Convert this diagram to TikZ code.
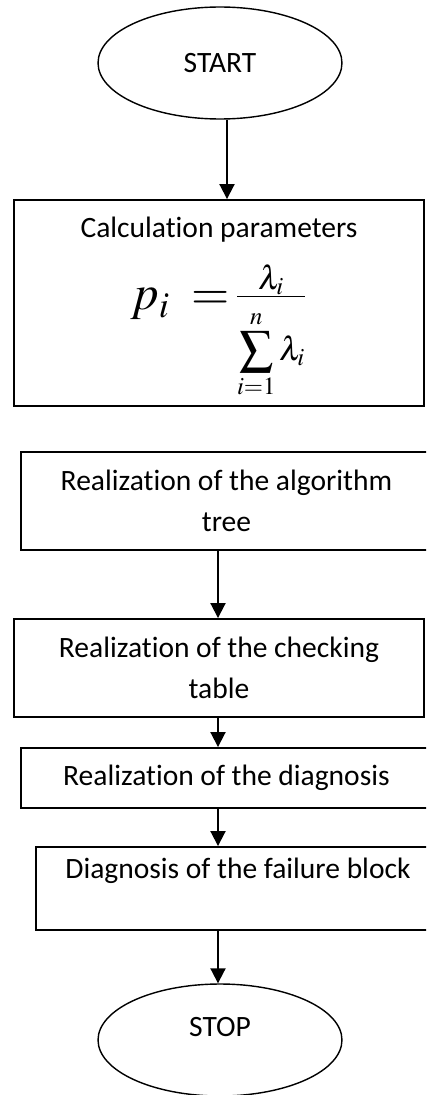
\documentclass[tikz,border=0pt]{standalone}
\usepackage{amsmath, mathptmx}
\usepackage[no-math]{fontspec}
\setmainfont{Carlito}[Ligatures = NoCommon]
\usetikzlibrary{shapes.geometric, arrows.meta}

\begin{document}
\begin{tikzpicture}[x=0.02cm, y=-0.02cm]
    \tikzstyle{every node} = [font = \fontsize{16.8}{23.3}\selectfont];
    \tikzstyle{term} = [draw, ellipse, line width = 0.8pt, minimum width = 4.88cm, minimum height = 2.24cm, inner sep = 0pt];
    \tikzstyle{block} = [draw, rectangle, line width = 1.1pt, align = center, inner sep = 0pt];
    \tikzstyle{arr} = [line width = 1.1pt, -{Triangle[length = 3mm, width = 3mm]}];
    \useasboundingbox (0,0) rectangle (426,1095);
    \clip (0,0) rectangle (426,1095);
    \node[term] (start) at (220,63) {START};
    \node[block, minimum width = 8.2cm, minimum height = 4.12cm] (calc) at (219,303)
        {\rule{0pt}{17pt}Calculation parameters\\[11.5pt]
         {\fontsize{28}{30}\selectfont$p_i\;=$}\,\raisebox{3pt}{\fontsize{19}{21}\selectfont$\frac{\textstyle\lambda_i}{\raisebox{0pt}[\dimexpr\height+7pt\relax]{$\displaystyle\sum_{i=1}^{n}\lambda_i$}}$}};
    \node[block, minimum width = 8.22cm, minimum height = 1.96cm] (tree) at (226.5,501) {Realization of the algorithm\\tree};
    \node[block, minimum width = 8.2cm, minimum height = 1.96cm] (table) at (219,668) {Realization of the checking\\table};
    \node[block, minimum width = 8.22cm, minimum height = 1.2cm] (diag) at (226.5,778) {Realization of the diagnosis};
    \node[block, minimum width = 8.08cm, minimum height = 1.66cm] (fail) at (238,888.5) {Diagnosis of the failure block\\~};
    \node[term, text height = 10pt, text depth = 14.5pt] (stop) at (220,1040) {STOP};
    \coordinate (s1) at (227,0);
    \coordinate (s2) at (218,0);
    \draw[arr] (start.south -| s1) -- (calc.north -| s1);
    \draw[arr] (tree.south -| s2) -- (table.north -| s2);
    \draw[arr] (table.south -| s2) -- (diag.north -| s2);
    \draw[arr] (diag.south -| s2) -- (fail.north -| s2);
    \draw[arr] (fail.south -| s2) -- (stop.north -| s2);
\end{tikzpicture}
\end{document}
